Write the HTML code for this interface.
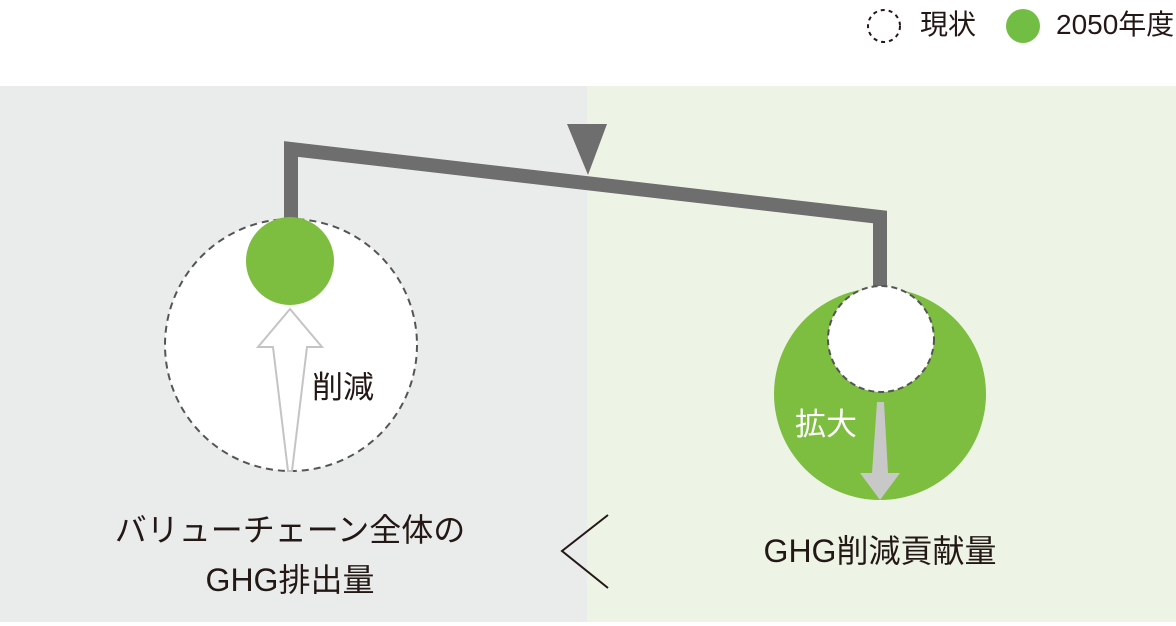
<!DOCTYPE html>
<html><head><meta charset="utf-8"><style>
html,body{margin:0;padding:0;background:#fff;}
body{width:1176px;height:626px;position:relative;overflow:hidden;font-family:"Liberation Sans","Noto Sans CJK JP",sans-serif;color:#231815;}
.t{position:absolute;white-space:nowrap;line-height:1;}
</style></head><body>
<svg width="1176" height="626" style="position:absolute;left:0;top:0">
<rect x="0" y="86" width="587" height="536" fill="#eaeceb"/>
<rect x="587" y="86" width="589" height="536" fill="#eef4e5"/>
<!-- legend -->
<circle cx="884" cy="26" r="16" fill="#fff" stroke="#231815" stroke-width="2" stroke-dasharray="4 4"/>
<circle cx="1023" cy="26" r="17" fill="#72bd44"/>
<!-- beam -->
<polyline points="291,218 291,149 880,217 880,290" fill="none" stroke="#6e6e6e" stroke-width="14" stroke-linejoin="miter"/>
<polygon points="567,124 607,124 588,175" fill="#6e6e6e"/>
<!-- left -->
<circle cx="291" cy="345" r="126" fill="#fff" stroke="#555" stroke-width="2" stroke-dasharray="7 5"/>
<circle cx="290" cy="261" r="44" fill="#7dbd40"/>
<polygon points="290,309 322,347 307,347 292,471 288,471 273,347 258,347" fill="#fff" stroke="#c4c4c4" stroke-width="2" stroke-linejoin="miter"/>
<!-- right -->
<circle cx="880" cy="394" r="106" fill="#7dbd40"/>
<circle cx="881" cy="339" r="53" fill="#fff" stroke="#555" stroke-width="2" stroke-dasharray="6 4"/>
<polygon points="877,402 884,402 888,473 900,473 880,500 860,473 872,473" fill="#c8c8c8"/>
<!-- less-than -->
<polyline points="608,515 562,551 608,588" fill="none" stroke="#231815" stroke-width="2"/>
</svg>
<div class="t" style="left:920px;top:11px;font-size:28px;">現状</div>
<div class="t" style="left:1056px;top:11px;font-size:28px;">2050年度</div>
<div class="t" style="left:312px;top:372px;font-size:31px;">削減</div>
<div class="t" style="left:795px;top:409px;font-size:31px;color:#fff;">拡大</div>
<div class="t" style="left:90px;width:400px;text-align:center;top:514px;font-size:32px;">バリューチェーン全体の</div>
<div class="t" style="left:90px;width:400px;text-align:center;top:564px;font-size:32px;">GHG排出量</div>
<div class="t" style="left:680px;width:400px;text-align:center;top:535px;font-size:32px;">GHG削減貢献量</div>
</body></html>
